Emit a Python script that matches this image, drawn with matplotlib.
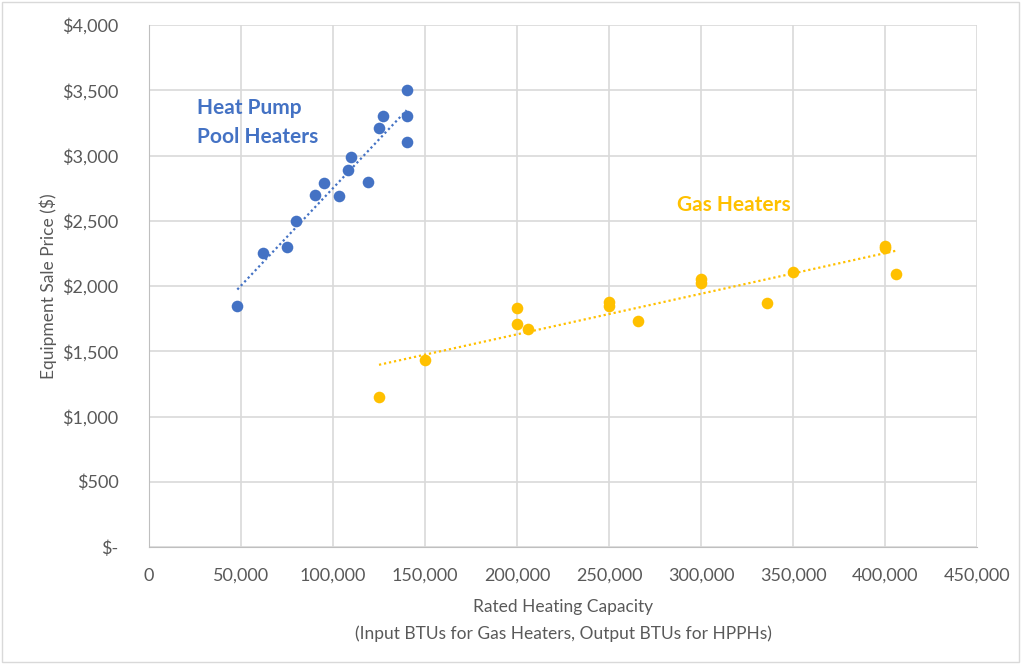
import matplotlib
matplotlib.use("Agg")
import matplotlib.pyplot as plt
import numpy as np
from matplotlib.ticker import FuncFormatter, MultipleLocator
from matplotlib.patches import Rectangle

plt.rcParams['font.family'] = ['Lato', 'DejaVu Sans']

hp_capacity = [48000, 62000, 75000, 80000, 90000, 95000, 103000, 108000, 110000,
               119000, 125000, 127000, 140000, 140000, 140000]
hp_price = [1850, 2250, 2300, 2500, 2700, 2790, 2690, 2890, 2990,
            2800, 3210, 3300, 3500, 3300, 3100]

gas_capacity = [125000, 150000, 200000, 200000, 206000, 250000, 250000, 266000,
                300000, 300000, 336000, 350000, 400000, 400000, 406000]
gas_price = [1150, 1430, 1830, 1710, 1670, 1880, 1845, 1730,
             2050, 2020, 1870, 2110, 2305, 2290, 2095]

blue = '#4472C4'
gold = '#FFC000'
grey_text = '#595959'
grid_c = '#D9D9D9'

fig = plt.figure(figsize=(10.21, 6.64), dpi=100)
ax = fig.add_axes([149/1021, 1-547/664, (977-149)/1021, (547-25)/664])

ax.scatter(hp_capacity, hp_price, s=70, color=blue, zorder=3, linewidths=0)
ax.scatter(gas_capacity, gas_price, s=70, color=gold, zorder=3, linewidths=0)

for xs, ys, c in [(hp_capacity, hp_price, blue), (gas_capacity, gas_price, gold)]:
    xs = np.array(xs, float); ys = np.array(ys, float)
    m, b = np.polyfit(xs, ys, 1)
    xx = np.array([xs.min(), xs.max()])
    ax.plot(xx, m*xx + b, color=c, lw=1.6, ls=(0, (1, 1.3)), zorder=2)

ax.set_xlim(0, 450000)
ax.set_ylim(0, 4000)
ax.xaxis.set_major_locator(MultipleLocator(50000))
ax.yaxis.set_major_locator(MultipleLocator(500))
ax.xaxis.set_major_formatter(FuncFormatter(lambda v, p: f"{int(v):,}"))
ax.yaxis.set_major_formatter(FuncFormatter(lambda v, p: "$-" if v == 0 else f"${int(v):,}"))

ax.grid(True, color=grid_c, lw=1.2)
ax.set_axisbelow(True)
for s in ['top', 'right']:
    ax.spines[s].set_visible(False)
for s in ['left', 'bottom']:
    ax.spines[s].set_color('#BFBFBF')
ax.tick_params(length=0, labelsize=13, colors=grey_text)
ax.tick_params(axis='x', pad=15)
ax.tick_params(axis='y', pad=22)

ax.set_ylabel("Equipment Sale Price ($)", fontsize=12.5, color=grey_text, labelpad=4)
ax.set_xlabel("Rated Heating Capacity\n(Input BTUs for Gas Heaters, Output BTUs for HPPHs)",
              fontsize=12.5, color=grey_text, labelpad=11, linespacing=1.75)

ax.text(26000, 3250, "Heat Pump\nPool Heaters", color=blue, fontsize=15, fontweight='bold',
        linespacing=1.55, va='center', ha='left')
ax.text(287000, 2620, "Gas Heaters", color=gold, fontsize=15, fontweight='bold',
        va='center', ha='left')

fig.patches.append(Rectangle((2/1021, 2/664), 1-4/1021, 1-4/664, transform=fig.transFigure,
                             fill=False, edgecolor='#D9D9D9', lw=1))

fig.savefig("out.png", dpi=100)
